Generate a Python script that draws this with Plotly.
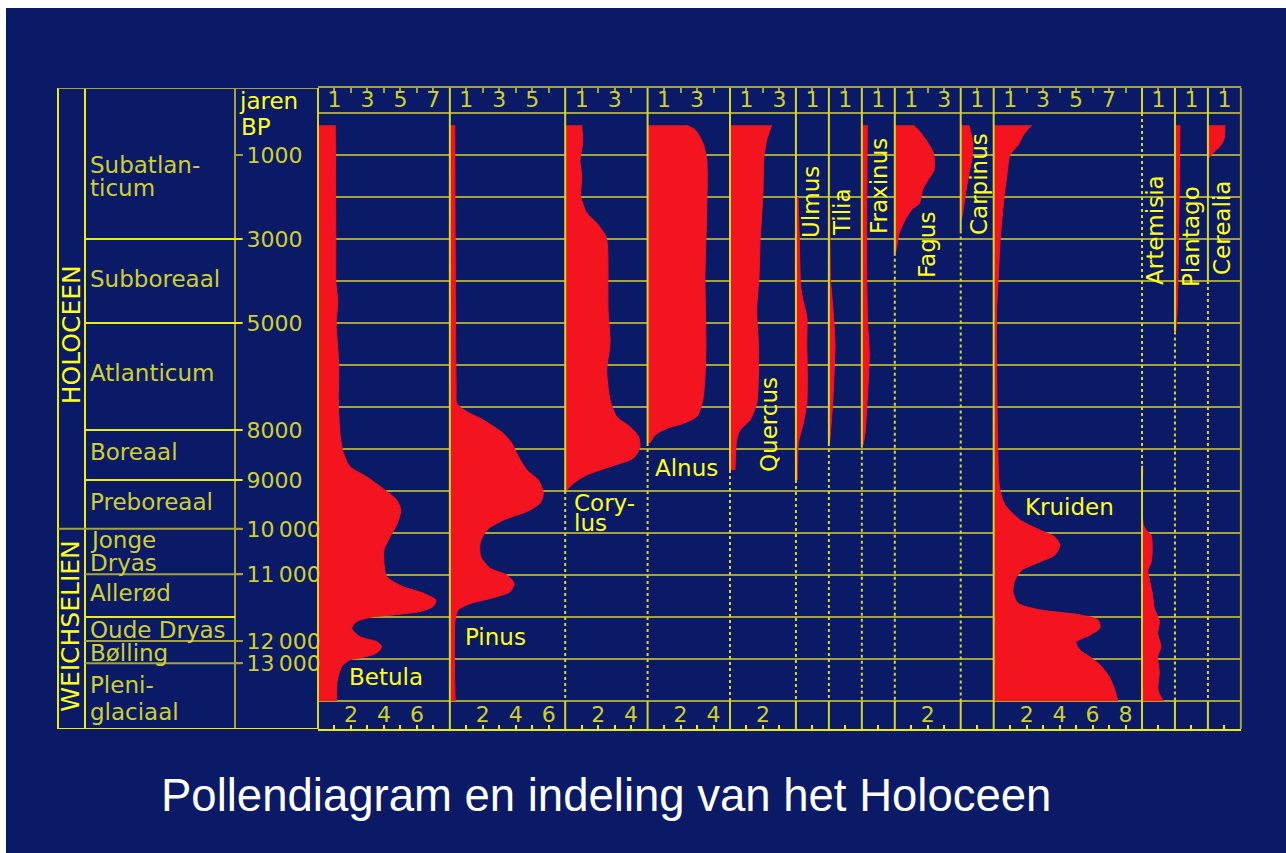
import plotly.graph_objects as go

W, H = 1286, 853

# ---------------- data ----------------
taxa = ["Betula", "Pinus", "Corylus", "Alnus", "Quercus", "Ulmus", "Tilia",
        "Fraxinus", "Fagus", "Carpinus", "Kruiden", "Artemisia", "Plantago", "Cerealia"]
# width of each pollen column in scale units
scale_max = [8, 7, 5, 5, 4, 2, 2, 2, 4, 2, 9, 2, 2, 2]

# pollen curves: depth in grid rows (0 = top of diagram, 14 = bottom) and value
betula_depth = [0.29, 1.0, 2.0, 3.0, 4.0, 4.5, 5.0, 5.5, 6.05, 6.83, 7.62, 8.1, 8.42, 8.66,
                8.98, 9.21, 9.45, 9.77, 10.09, 10.4, 10.72, 11.04, 11.28, 11.43, 11.6, 11.75,
                11.87, 11.95, 12.0, 12.11, 12.27, 12.47, 12.59, 12.7, 12.86, 12.96, 13.02,
                13.18, 13.5, 14.0]
betula_value = [1.04, 1.06, 1.06, 1.08, 1.08, 1.2, 1.1, 1.18, 1.26, 1.23, 1.33, 1.54, 1.94, 2.95,
                4.07, 4.77, 5.02, 4.81, 4.37, 4.0, 4.0, 4.17, 5.16, 6.37, 7.16, 6.98,
                6.19, 4.55, 3.26, 2.35, 2.04, 2.55, 3.56, 3.86, 3.56, 2.75, 1.94,
                1.44, 1.17, 1.13]

pinus_depth = [0.29, 3.0, 6.5, 6.91, 7.11, 7.31, 7.63, 7.86, 8.18, 8.5, 8.74, 9.05, 9.29, 9.49,
               9.69, 9.93, 10.25, 10.56, 10.84, 11.0, 11.2, 11.4, 11.56, 11.68, 11.83, 12.07, 14.0]
pinus_value = [0.3, 0.32, 0.38, 0.42, 1.02, 2.03, 3.25, 3.75, 4.16, 4.67, 5.37, 5.68, 5.47, 4.67,
               3.25, 2.24, 1.83, 1.87, 2.44, 3.45, 3.9, 3.65, 2.44, 1.23, 0.52, 0.32, 0.32]

corylus_depth = [0.29, 0.7, 1.12, 1.52, 2.0, 2.15, 2.38, 2.62, 2.95, 3.27, 4.69, 5.48, 6.12,
                 6.83, 7.23, 7.47, 7.7, 7.95, 8.22, 8.42, 8.62, 8.82, 8.98]
corylus_value = [1.0, 1.06, 0.9, 1.0, 0.94, 1.06, 1.3, 1.91, 2.48, 2.58, 2.6, 2.72, 2.52,
                 2.72, 3.12, 3.93, 4.44, 4.54, 4.13, 2.72, 1.3, 0.49, 0.09]

alnus_depth = [0.29, 0.4, 0.72, 1.12, 2.3, 3.9, 5.48, 6.29, 6.75, 7.0, 7.23, 7.39, 7.51, 7.67, 7.86]
alnus_value = [2.37, 2.88, 3.36, 3.59, 3.59, 3.48, 3.54, 3.48, 3.38, 3.25, 2.98, 2.17, 1.16, 0.45, 0.15]

quercus_depth = [0.29, 0.64, 1.04, 1.9, 3.1, 3.9, 4.69, 5.48, 6.29, 6.91, 7.31, 7.55, 7.79, 8.5]
quercus_value = [2.53, 2.23, 2.06, 2.0, 1.82, 1.76, 1.62, 1.72, 1.72, 1.62, 1.21, 0.61, 0.4, 0.3]

ulmus_depth = [2.0, 3.1, 4.14, 4.5, 4.85, 5.48, 6.29, 6.9, 7.38, 7.86, 8.74]
ulmus_value = [0.13, 0.21, 0.29, 0.45, 0.66, 0.66, 0.69, 0.66, 0.45, 0.15, 0.1]

tilia_depth = [2.2, 4.0, 4.3, 5.0, 5.5, 6.05, 6.9, 7.55, 7.86]
tilia_value = [0.06, 0.1, 0.17, 0.31, 0.37, 0.33, 0.23, 0.11, 0.05]

fraxinus_depth = [0.29, 2.0, 4.0, 5.0, 5.7, 6.3, 7.0, 7.6, 7.9]
fraxinus_value = [0.33, 0.3, 0.3, 0.35, 0.45, 0.4, 0.3, 0.2, 0.08]

fagus_depth = [0.29, 0.4, 0.72, 0.95, 1.36, 1.64, 1.83, 2.15, 2.3, 2.55, 2.86, 3.19, 3.33]
fagus_value = [1.12, 1.43, 2.03, 2.34, 2.38, 1.94, 1.69, 1.49, 1.03, 0.62, 0.27, 0.12, 0.03]

carpinus_depth = [0.29, 0.72, 1.12, 1.52, 2.0, 2.38, 2.55]
carpinus_value = [0.5, 0.73, 0.67, 0.46, 0.26, 0.12, 0.02]

kruiden_depth = [0.29, 0.5, 0.77, 1.0, 1.52, 2.0, 3.1, 3.9, 4.7, 6.0, 7.0, 8.0, 8.7, 9.0, 9.33,
                 9.69, 9.93, 10.1, 10.29, 10.52, 10.69, 10.88, 11.12, 11.4, 11.67, 11.83, 11.95,
                 12.07, 12.26, 12.43, 12.6, 12.79, 12.95, 13.14, 13.38, 13.62, 14.0]
kruiden_value = [2.31, 1.84, 1.47, 0.99, 0.79, 0.63, 0.38, 0.28, 0.18, 0.18, 0.2, 0.25, 0.3, 0.38, 0.69,
                 1.6, 2.8, 3.72, 4.02, 3.72, 2.8, 1.72, 1.29, 1.17, 1.47, 2.8, 5.24,
                 6.33, 6.45, 5.84, 4.99, 5.24, 5.84, 6.45, 6.94, 7.24, 7.54]

artemisia_depth = [8.4, 9.8, 9.95, 10.05, 10.4, 10.7, 10.9, 11.1, 11.5, 11.8, 12.1, 12.4, 12.7,
                   12.95, 13.3, 13.74, 14.0]
artemisia_value = [0.05, 0.08, 0.3, 0.55, 0.62, 0.55, 0.35, 0.45, 0.65, 0.75, 1.05, 0.95, 1.15,
                   0.95, 1.05, 0.97, 1.29]

plantago_depth = [0.29, 1.0, 2.0, 3.0, 4.0, 4.8, 5.2]
plantago_value = [0.3, 0.28, 0.25, 0.22, 0.18, 0.12, 0.05]

cerealia_depth = [0.29, 0.5, 0.65, 0.8, 0.92, 1.02, 1.08]
cerealia_value = [1.03, 1.02, 0.95, 0.72, 0.4, 0.15, 0.04]

curves = {
    "Betula": (betula_depth, betula_value),
    "Pinus": (pinus_depth, pinus_value),
    "Corylus": (corylus_depth, corylus_value),
    "Alnus": (alnus_depth, alnus_value),
    "Quercus": (quercus_depth, quercus_value),
    "Ulmus": (ulmus_depth, ulmus_value),
    "Tilia": (tilia_depth, tilia_value),
    "Fraxinus": (fraxinus_depth, fraxinus_value),
    "Fagus": (fagus_depth, fagus_value),
    "Carpinus": (carpinus_depth, carpinus_value),
    "Kruiden": (kruiden_depth, kruiden_value),
    "Artemisia": (artemisia_depth, artemisia_value),
    "Plantago": (plantago_depth, plantago_value),
    "Cerealia": (cerealia_depth, cerealia_value),
}

# age scale (years BP) and where it sits on the depth axis
time_labels = ["1000", "3000", "5000", "8000", "9000", "10\u2009000", "11\u2009000", "12\u2009000", "13\u2009000"]
time_depth = [1.0, 3.0, 5.0, 7.55, 8.74, 9.9, 10.98, 12.57, 13.1]

# chronozones and their lower boundaries
period_names = [["Subatlan-", "ticum"], ["Subboreaal"], ["Atlanticum"], ["Boreaal"],
                ["Preboreaal"], ["Jonge", "Dryas"], ["Allerød"], ["Oude Dryas"],
                ["Bølling"], ["Pleni-", "glaciaal"]]
period_bounds = [3.0, 5.0, 7.55, 8.74, 9.9, 10.98, 12.0, 12.57, 13.1]
epochs = ["HOLOCEEN", "WEICHSELIEN"]

title = "Pollendiagram en indeling van het Holoceen"

# ---------------- styling / layout ----------------
NAVY = "#0a1a66"
RED = "#f3141f"
BRIGHT = "#ecec10"
OLIVE = "#a3a33a"
SEP = "#d6d628"
TXT_OLIVE = "#d0d02c"
TXT_BRIGHT = "#ffff14"
FONT = "DejaVu Sans"

PLOT_LEFT = 318.0
UNIT_PX = 16.48
ROW0_PX, ROW_PX = 113.0, 42.0
TOP_PX, BOT_PX = 88.0, 729.0


def px(x):
    return x / W


def py(y):
    return 1 - y / H


def depth_of(ypx):
    return (ypx - ROW0_PX) / ROW_PX


D_TOP, D_BOT = depth_of(TOP_PX), depth_of(BOT_PX)
yrange = [D_BOT, D_TOP]

col_left = []
cum = 0
for w in scale_max:
    col_left.append(PLOT_LEFT + UNIT_PX * cum)
    cum += w
RIGHT_PX = PLOT_LEFT + UNIT_PX * cum
N = len(taxa)

fig = go.Figure()

for i, name in enumerate(taxa):
    d, v = curves[name]
    fig.add_trace(go.Scatter(
        x=v, y=d, xaxis="x" if i == 0 else f"x{i + 1}", yaxis="y",
        mode="lines", fill="tozerox", fillcolor=RED,
        line=dict(color=RED, width=1, shape="spline", smoothing=0.7),
        hoverinfo="skip", showlegend=False))

# empty traces that carry the bottom scales and the age axis
for i in range(N):
    fig.add_trace(go.Scatter(x=[], y=[], xaxis=f"x{i + 1 + N}", yaxis="y",
                             showlegend=False, hoverinfo="skip"))
fig.add_trace(go.Scatter(x=[], y=[], xaxis="x", yaxis="y2", showlegend=False, hoverinfo="skip"))

layout = dict(
    width=W, height=H, margin=dict(l=0, r=0, t=0, b=0),
    paper_bgcolor="white", plot_bgcolor="rgba(0,0,0,0)",
    font=dict(family=FONT, color=TXT_OLIVE),
    showlegend=False,
)

tick_font = dict(family=FONT, size=22, color=TXT_OLIVE)
for i, w in enumerate(scale_max):
    n = i + 1
    dom = [px(col_left[i]), px(col_left[i] + UNIT_PX * w)]
    ticks_all = list(range(1, w))
    top_text = [str(t) if t % 2 else "" for t in ticks_all]
    bot_text = [str(t) if t % 2 == 0 else "" for t in ticks_all]
    top_key = "xaxis" if n == 1 else f"xaxis{n}"
    layout[top_key] = dict(
        domain=dom, range=[0, w], anchor="y", side="top",
        showgrid=False, zeroline=False, showline=True, linecolor=OLIVE, linewidth=2,
        ticks="inside", ticklen=5, tickwidth=2, tickcolor=OLIVE,
        tickmode="array", tickvals=ticks_all, ticktext=top_text,
        ticklabelposition="inside", tickfont=tick_font, fixedrange=True)
    layout[f"xaxis{n + N}"] = dict(
        overlaying="x" if n == 1 else f"x{n}", range=[0, w], anchor="y", side="bottom",
        showgrid=False, zeroline=False, showline=True, linecolor=BRIGHT, linewidth=2,
        ticks="inside", ticklen=4, tickwidth=2, tickcolor=BRIGHT,
        tickmode="array", tickvals=ticks_all, ticktext=bot_text,
        ticklabelposition="inside", tickfont=tick_font, fixedrange=True)

layout["yaxis"] = dict(
    domain=[py(BOT_PX), py(TOP_PX)], range=yrange, anchor="x",
    showline=False, showticklabels=False, ticks="", zeroline=False,
    tickmode="array", tickvals=list(range(0, 15)),
    showgrid=True, gridcolor=OLIVE, gridwidth=2, fixedrange=True)
layout["yaxis2"] = dict(
    overlaying="y", anchor="free", position=px(235), side="right", range=yrange,
    showline=True, linecolor=OLIVE, linewidth=2, showgrid=False, zeroline=False,
    ticks="outside", ticklen=7, tickwidth=2, tickcolor=OLIVE,
    tickmode="array", tickvals=time_depth, ticktext=time_labels, ticklabelstandoff=-1,
    tickfont=dict(family=FONT, size=22, color=TXT_OLIVE), fixedrange=True)

shapes = []
# slide background
shapes.append(dict(type="rect", xref="paper", yref="paper", x0=px(6), x1=1, y0=0, y1=py(8),
                   fillcolor=NAVY, line=dict(width=0), layer="below"))


def vline(xp, d0, d1, color, dash="solid", width=2):
    shapes.append(dict(type="line", xref="paper", yref="y", x0=px(xp), x1=px(xp), y0=d0, y1=d1,
                       line=dict(color=color, width=width, dash=dash), layer="above"))


def hline(x0p, x1p, d, color, width=2):
    shapes.append(dict(type="line", xref="paper", yref="y", x0=px(x0p), x1=px(x1p), y0=d, y1=d,
                       line=dict(color=color, width=width), layer="above"))


# left panel frame
vline(58, D_TOP, D_BOT, BRIGHT)
vline(85, D_TOP, D_BOT, BRIGHT)
hline(58, PLOT_LEFT, D_TOP, OLIVE)
hline(58, PLOT_LEFT, D_BOT, BRIGHT)
vline(RIGHT_PX, D_TOP, D_BOT, OLIVE)

# chronozone boundaries
bright_bounds = {3.0, 5.0, 7.55, 8.74, 12.0}
for b in period_bounds:
    x0 = 58 if b == 9.9 else 85
    x1 = 235 if b == 12.0 else 242
    hline(x0, x1, b, BRIGHT if b in bright_bounds else OLIVE)

# column separators: solid where a curve is present, dotted elsewhere
solid_spans = [(0, 14), (0, 14), (0, 9.0), (0, 7.86), (0, 8.5), (0, 8.74), (0, 7.86),
               (0, 7.9), (0, 3.33), (0, 2.8), (0, 14), (8.4, 14), (0, 5.2), (0, 4.0)]
for i in range(N):
    xl = col_left[i]
    vline(xl, D_TOP, 0, SEP)
    vline(xl, 14, D_BOT, SEP)
    s0, s1 = solid_spans[i]
    vline(xl, s0, s1, SEP)
    if s0 > 0:
        vline(xl, 0, s0, SEP, dash="3px,3px")
    if s1 < 14:
        vline(xl, s1, 14, SEP, dash="3px,3px")

annotations = []


def text(xp, d, s, size=23, color=TXT_OLIVE, angle=0, xanchor="left", family=FONT, yref="y"):
    annotations.append(dict(xref="paper", yref=yref, x=px(xp), y=d, text=s, showarrow=False,
                            xanchor=xanchor, yanchor="middle", textangle=angle,
                            font=dict(family=family, size=size, color=color)))


# chronozone names
period_label_depth = [[1.24, 1.79], [3.95], [6.19], [8.07], [9.26], [10.17, 10.71], [11.43],
                      [12.31], [12.86], [13.62, 14.26]]
for lines, depths in zip(period_names, period_label_depth):
    for s, d in zip(lines, depths):
        text(88, d, s, size=23)

# epochs
text(71, 5.29, epochs[0], size=25, color=TXT_BRIGHT, angle=-90, xanchor="center")
text(71, 12.21, epochs[1], size=25, color=TXT_BRIGHT, angle=-90, xanchor="center")

# age axis caption
text(237, depth_of(101), "jaren", size=23, color=TXT_BRIGHT)
text(239, depth_of(127), "BP", size=23, color=TXT_BRIGHT)

# taxon names
horizontal_names = {"Betula": (386, 677), "Pinus": (496, 637), "Alnus": (686, 468),
                    "Kruiden": (1069, 507)}
vertical_names = {"Quercus": (769, 425), "Ulmus": (811, 202), "Tilia": (842, 212),
                  "Fraxinus": (879, 186), "Fagus": (927, 245), "Carpinus": (979, 184),
                  "Artemisia": (1155, 230), "Plantago": (1191, 237), "Cerealia": (1222, 228)}
for name, (xp, ypx) in horizontal_names.items():
    text(xp, depth_of(ypx), name, color=TXT_BRIGHT, xanchor="center")
for name, (xp, ypx) in vertical_names.items():
    text(xp, depth_of(ypx), name, color=TXT_BRIGHT, angle=-90, xanchor="center")
text(572, depth_of(503), "Cory-", color=TXT_BRIGHT)
text(572, depth_of(523), "lus", color=TXT_BRIGHT)

# title
annotations.append(dict(xref="paper", yref="paper", x=px(606), y=py(795), text=title,
                        showarrow=False, xanchor="center", yanchor="middle",
                        font=dict(family="Liberation Sans, Arial", size=45.5, color="white")))

layout["shapes"] = shapes
layout["annotations"] = annotations
fig.update_layout(**layout)

fig.write_html("out.html")
